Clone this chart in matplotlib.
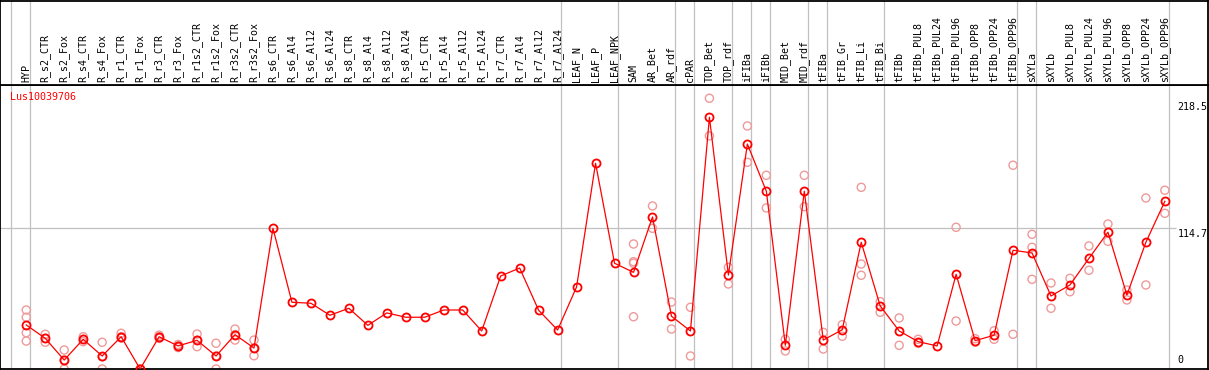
import matplotlib
matplotlib.use("Agg")
import matplotlib.pyplot as plt

# Data
categories = ["HYP",
              "R_s2_CTR", "R_s2_Fox", "R_s4_CTR", "R_s4_Fox", "R_r1_CTR", "R_r1_Fox",
              "R_r3_CTR", "R_r3_Fox", "R_r1s2_CTR", "R_r1s2_Fox", "R_r3s2_CTR", "R_r3s2_Fox",
              "R_s6_CTR", "R_s6_Al4", "R_s6_Al12", "R_s6_Al24", "R_s8_CTR", "R_s8_Al4",
              "R_s8_Al12", "R_s8_Al24", "R_r5_CTR", "R_r5_Al4", "R_r5_Al12", "R_r5_Al24",
              "R_r7_CTR", "R_r7_Al4", "R_r7_Al12", "R_r7_Al24",
              "LEAF_N", "LEAF_P", "LEAF_NPK", "SAM", "AR_Bet", "AR_rdf", "cPAR",
              "TOP_Bet", "TOP_rdf", "iFIBa", "iFIBb", "MID_Bet", "MID_rdf", "tFIBa",
              "tFIB_Gr", "tFIB_Li", "tFIB_Bi",
              "tFIBb", "tFIBb_PUL8", "tFIBb_PUL24", "tFIBb_PUL96", "tFIBb_OPP8",
              "tFIBb_OPP24", "tFIBb_OPP96", "sXYLa",
              "sXYLb", "sXYLb_PUL8", "sXYLb_PUL24", "sXYLb_PUL96", "sXYLb_OPP8",
              "sXYLb_OPP24", "sXYLb_OPP96"]

group_sizes = [1, 28, 3, 3, 1, 2, 1, 1, 2, 1, 3, 7, 1, 7]

means = [35.9,
         25.0, 7.3, 24.2, 10.6, 26.3, 0.0, 26.3, 18.8, 23.4, 10.6, 28.0, 17.1,
         114.7, 54.4, 53.6, 43.8, 49.5, 35.6, 45.7, 42.2, 42.2, 48.1, 48.1, 31.0,
         75.8, 82.3, 47.9, 31.8,
         66.9, 167.7, 86.2, 78.8, 123.9, 43.0, 31.0,
         205.2, 76.6, 183.4, 144.9, 19.3, 144.9, 23.6,
         32.0, 103.3, 51.4,
         31.0, 22.3, 18.8, 77.2, 23.1, 27.5, 96.8, 94.6,
         59.5, 68.5, 90.2, 111.5, 60.3, 103.3, 136.7]

replicates = [[48.1, 42.2, 29.6, 22.8],
              [28.3, 25.0, 21.8], [15.5, 7.3, 0.0], [26.3, 24.2, 22.3], [21.8, 10.0, 0.0],
              [29.1, 26.3, 25.3], [0.0, 0.0, 0.0], [25.0, 26.3, 27.6], [17.5, 18.8, 20.0],
              [28.5, 23.4, 18.2], [21.0, 10.6, 0.0], [32.6, 28.0, 23.6], [23.6, 17.1, 10.8],
              [], [], [], [], [], [], [], [], [], [], [], [], [], [], [], [],
              [], [], [], [101.9, 87.5, 86.2, 42.6], [132.9, 114.7], [54.6, 32.6], [50.3, 10.6],
              [220.7, 190.0], [82.9, 69.3], [198.1, 168.5], [157.9, 131.3], [24.2, 14.7],
              [157.9, 132.3], [29.9, 16.3],
              [36.1, 26.7], [148.1, 85.6, 76.4], [54.9, 46.2],
              [41.6, 19.3], [24.2, 21.0], [], [115.5, 39.1], [24.7, 22.0], [31.2, 24.2],
              [166.1, 28.3], [109.8, 99.2, 73.1],
              [70.1, 49.5], [73.9, 63.0], [100.3, 80.5], [118.2, 104.1], [64.4, 56.3],
              [139.4, 68.5], [145.7, 126.9]]

gene = "Lus10039706"
ytick_values = [218.5, 114.7, 0]

# Layout (pixels of a 1209x370 figure)
W, H = 1209, 370
x0, step = 26.3, 19.0
xlim = (-x0 / step, (W - x0) / step)
mono = "DejaVu Sans Mono"
grid_col = "#c0c0c0"

fig = plt.figure(figsize=(W / 100, H / 100), dpi=100)
ax = fig.add_axes([0, 1 / H, 1207.5 / W, 284 / H])
hx = fig.add_axes([0, 285 / H, 1207.5 / W, 84.5 / H])

for a in (ax, hx):
    a.set_xlim(*xlim)
    a.set_xticks([])
    a.set_yticks([])
    for s in a.spines.values():
        s.set_color("black")
        s.set_linewidth(1.3)
ax.set_ylim(0, 231.5)
hx.set_ylim(0, 1)

# Group separators
bounds = [-0.8]
end = -1
for g in group_sizes:
    end += g
    bounds.append(end + 0.2)
for a in (ax, hx):
    for b in bounds:
        a.axvline(b, color=grid_col, linewidth=0.9, zorder=0)

ax.hlines(114.7, xlim[0], (1177 - x0) / step, color=grid_col, linewidth=0.9, zorder=0)

# Category labels in the header
for i, c in enumerate(categories):
    hx.text(i, 0.03, c, rotation=90, ha="center", va="bottom",
            fontsize=7.2, family=mono)

# Replicates
rx, ry = [], []
for i, reps in enumerate(replicates):
    for r in reps:
        rx.append(i)
        ry.append(r)
ax.scatter(rx, ry, s=34, facecolors="none", edgecolors="#ef9a9a", linewidths=1.0, zorder=2)

# Mean line
xs = list(range(len(categories)))
ax.plot(xs, means, color="red", linewidth=0.9, marker="o", markersize=5.8,
        mfc="none", mec="red", mew=1.3, zorder=3)

# Gene label and right-hand values
ax.text((10 - x0) / step, 225.8, gene, color="red", ha="left", va="top",
        fontsize=7.2, family=mono)
lx = (1179 - x0) / step
for v in ytick_values:
    if v == 0:
        ax.annotate(str(v), xy=(lx, v), xytext=(0, 4), textcoords="offset pixels",
                    ha="left", va="bottom", fontsize=7.2, family=mono)
    else:
        ax.annotate(str(v), xy=(lx, v), xytext=(0, -1), textcoords="offset pixels",
                    ha="left", va="top", fontsize=7.2, family=mono)

fig.savefig("out.png", dpi=100)
